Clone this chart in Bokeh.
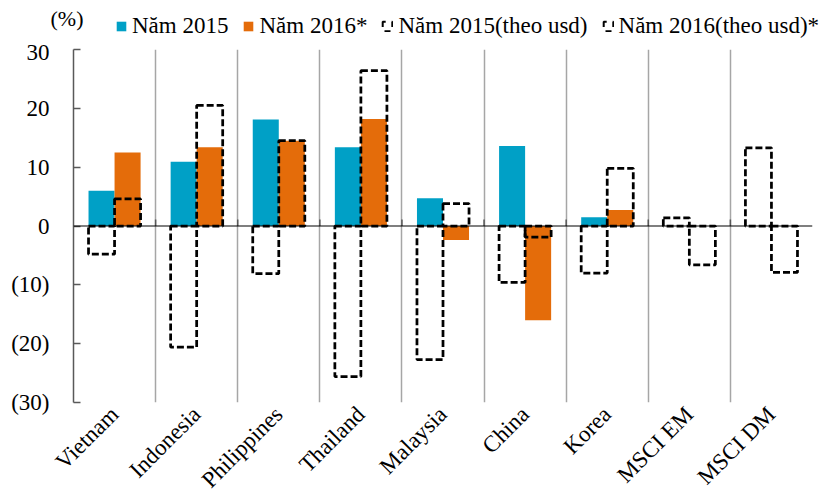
import math

from bokeh.plotting import figure
from bokeh.layouts import column
from bokeh.models import (Range1d, FixedTicker, Legend, LegendItem, Span, Label,
                          ColumnDataSource)
from bokeh.embed import file_html
from bokeh.resources import INLINE

# Market returns by country / index (%)
categories = ["Vietnam", "Indonesia", "Philippines", "Thailand", "Malaysia",
              "China", "Korea", "MSCI EM", "MSCI DM"]
nam_2015 = [6.0, 10.9, 18.1, 13.4, 4.7, 13.6, 1.5, 0.0, 0.0]
nam_2016 = [12.5, 13.4, 14.5, 18.2, -2.4, -16.0, 2.7, 0.0, 0.0]
nam_2015_usd = [-4.8, -20.6, -8.1, -25.6, -22.7, -9.6, -8.0, 1.4, 13.3]
nam_2016_usd = [4.6, 20.5, 14.5, 26.4, 3.8, -1.9, 9.8, -6.6, -7.9]

series_labels = ["Năm 2015", "Năm 2016*", "Năm 2015(theo usd)", "Năm 2016(theo usd)*"]
unit_label = "(%)"

# accounting-style ticks: negatives in parentheses
y_ticks = [-30, -20, -10, 0, 10, 20, 30]
y_tick_labels = ["(30)", "(20)", "(10)", "0", "10", "20", "30"]

FONT = "Liberation Serif"
BLUE = "#00A0C6"
ORANGE = "#E46C0A"
GRID = "#A6A6A6"
AXIS = "#595959"
DASH = dict(fill_color=None, line_color="black", line_width=2.75, line_dash="7 3")

W = 827
HEADER_H = 39
MAIN_H = 504 - HEADER_H

n = len(categories)
bar_w = 0.317
centers = [i + 0.5 for i in range(n)]
left_x = [c - bar_w / 2 for c in centers]
right_x = [c + bar_w / 2 for c in centers]

src = ColumnDataSource(dict(
    xl=left_x, xr=right_x,
    y15=nam_2015, y16=nam_2016, u15=nam_2015_usd, u16=nam_2016_usd,
))

# ---------------- main chart ----------------
p = figure(width=W, height=MAIN_H, output_backend="svg", toolbar_location=None,
           x_range=Range1d(0, n), y_range=Range1d(-30, 30),
           min_border_left=73, min_border_right=15,
           min_border_top=10, min_border_bottom=102,
           outline_line_color=None, background_fill_color="white",
           border_fill_color="white")

# filled bars (local currency)
p.vbar(x="xl", width=bar_w, top="y15", bottom=0, source=src,
       fill_color=BLUE, line_color=None)
p.vbar(x="xr", width=bar_w, top="y16", bottom=0, source=src,
       fill_color=ORANGE, line_color=None)

# zero line
p.add_layout(Span(location=0, dimension="width", line_color="black", line_width=1.2))

# dashed outline bars (USD)
p.vbar(x="xl", width=bar_w, top="u15", bottom=0, source=src, **DASH)
p.vbar(x="xr", width=bar_w, top="u16", bottom=0, source=src, **DASH)

# small category tick marks on the zero line
bounds = list(range(1, n))
p.segment(x0=bounds, x1=bounds, y0=[0] * len(bounds), y1=[1.1] * len(bounds),
          line_color=AXIS, line_width=1.5)

# y axis
yax = p.yaxis[0]
yax.ticker = FixedTicker(ticks=y_ticks)
yax.major_label_overrides = {t: l for t, l in zip(y_ticks, y_tick_labels)}
yax.major_label_text_font = FONT
yax.major_label_text_font_size = "23px"
yax.major_label_text_color = "black"
yax.major_label_text_align = "right"
yax.major_tick_in = 7
yax.major_tick_out = 0
yax.major_tick_line_color = AXIS
yax.major_tick_line_width = 1.5
yax.minor_tick_line_color = None
yax.axis_line_color = AXIS
yax.axis_line_width = 1.5
yax.major_label_standoff = 24

# x axis: category names at centers, rotated
xax = p.xaxis[0]
xax.ticker = FixedTicker(ticks=centers)
xax.major_label_overrides = {c: name for c, name in zip(centers, categories)}
xax.major_label_orientation = math.pi / 4
xax.major_label_text_font = FONT
xax.major_label_text_font_size = "23px"
xax.major_label_text_color = "black"
xax.axis_line_color = None
xax.major_tick_line_color = None
xax.minor_tick_line_color = None
xax.major_label_standoff = 2

# vertical separators between categories
p.xgrid.ticker = FixedTicker(ticks=list(range(0, n + 1)))
p.xgrid.grid_line_color = GRID
p.xgrid.grid_line_width = 1.5
p.ygrid.grid_line_color = None

# ---------------- header: unit + legend ----------------
h = figure(width=W, height=HEADER_H, output_backend="svg", toolbar_location=None,
           x_range=Range1d(0, W), y_range=Range1d(0, HEADER_H),
           min_border=0, outline_line_color=None,
           background_fill_color="white", border_fill_color="white")
h.axis.visible = False
h.grid.visible = False

# legend keys (styled like the bars, drawn off-range)
k15 = h.vbar(x=[-100], top=[0], width=1, fill_color=BLUE, line_color=None)
k16 = h.vbar(x=[-100], top=[0], width=1, fill_color=ORANGE, line_color=None)
ku15 = h.vbar(x=[-100], top=[0], width=1, fill_color=None, line_color="black",
              line_width=2, line_dash="6 6", line_dash_offset=3)
ku16 = h.vbar(x=[-100], top=[0], width=1, fill_color=None, line_color="black",
              line_width=2, line_dash="6 6", line_dash_offset=3)

h.add_layout(Label(x=50, y=HEADER_H - 17.5, x_units="screen", y_units="screen",
                   text=unit_label, text_font=FONT, text_font_size="22px",
                   text_color="black", text_baseline="middle"))

legend = Legend(
    items=[LegendItem(label=series_labels[0], renderers=[k15]),
           LegendItem(label=series_labels[1], renderers=[k16]),
           LegendItem(label=series_labels[2], renderers=[ku15]),
           LegendItem(label=series_labels[3], renderers=[ku16])],
    orientation="horizontal", location=(115, 0),
    label_text_font=FONT, label_text_font_size="23px", label_text_color="black",
    glyph_width=12, glyph_height=12, label_standoff=5, spacing=14,
    label_height=20, padding=0, margin=0, border_line_color=None,
    background_fill_alpha=0,
)
h.add_layout(legend)

# keep each plot's frame independent inside the column
for fig in (h, p):
    if "frame_align" in fig.properties():
        fig.frame_align = False

layout = column(h, p, spacing=0)
open("out.html", "w").write(file_html(layout, INLINE))
